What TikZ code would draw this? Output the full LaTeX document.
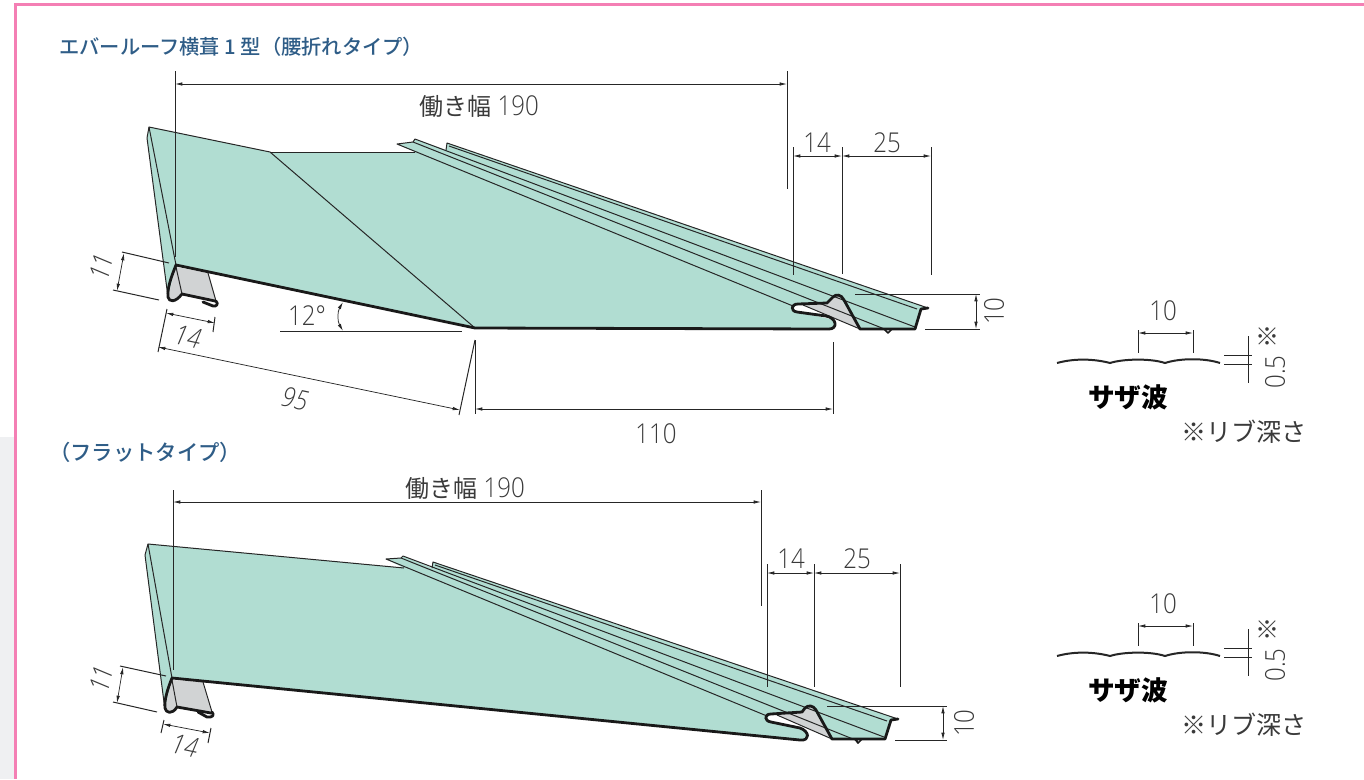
\documentclass[tikz,border=0pt]{standalone}
\usepackage{fontspec}
\setmainfont[FakeStretch=0.88]{Open Sans Light}
\newfontfamily\cjk{Noto Sans CJK JP}
\newfontfamily\cjktitle{Noto Sans CJK JP Medium}
\usetikzlibrary{arrows.meta}
\definecolor{panelgreen}{HTML}{B1DDD2}
\definecolor{profilegrey}{HTML}{D1D3D4}
\definecolor{framepink}{HTML}{F47FB4}
\definecolor{sidegrey}{HTML}{EFF0F2}
\definecolor{titleblue}{HTML}{2F5D87}
\definecolor{inkgrey}{HTML}{3A3A3A}
\tikzstyle{panel}=[fill=panelgreen,draw=none]
\tikzstyle{profile}=[fill=profilegrey,draw=none]
\tikzstyle{edge}=[draw=black!85,line width=0.75pt,line join=round]
\tikzstyle{heavy}=[draw=black!90,line width=2.1pt,line join=round,line cap=round]
\tikzstyle{extline}=[draw=black!85,line width=0.75pt]
\tikzstyle{dimline}=[draw=black!85,line width=0.55pt,{Latex[length=5.5pt,width=2.6pt]}-{Latex[length=5.5pt,width=2.6pt]}]
\tikzstyle{dimtext}=[inner sep=0pt,text=inkgrey,font=\fontsize{20.5}{22}\selectfont]
\tikzstyle{title}=[inner sep=0pt,anchor=west,text=titleblue,font=\cjktitle\fontsize{15.2}{17}\selectfont]
\newcommand{\worklabel}{{\cjk\fontsize{18}{20}\selectfont 働き幅} 190}
\begin{document}
\begin{tikzpicture}[x=0.75pt,y=-0.75pt]
	\useasboundingbox (0,0) rectangle (1364,779);
	% frame
	\fill [sidegrey] (0,437) rectangle (14,779);
	\fill [framepink] (14,3) rectangle (17,779);
	\fill [framepink] (14,3) rectangle (1364,6);
	\node [style=title] (title1) at (59,47) {エバールーフ横葺 1 型（腰折れタイプ）};
	\node [style=title, font=\cjktitle\fontsize{16}{18}\selectfont] (title2) at (49,452) {（フラットタイプ）};

	% upper panel
	\fill [style=panel] (149,127) -- (147,138) -- (168,297) -- (176,265) -- (475,328) -- (832,329)
		-- (835,325) -- (835,320) -- (797,312) -- (793,308) -- (798,304) -- (827,303) -- (838,295)
		-- (860,329) -- (915,329) -- (920,310) -- (928,308) -- (447,143) -- (446,150) -- (415,139)
		-- (413,142) -- (397,144) -- (415,152) -- (270,152) -- cycle;
	\fill [style=profile] (176,267) -- (208,273) -- (216,301) -- (182,294) -- (172,301) -- (168,297) -- cycle;
	\fill [style=profile] (803,305) -- (827,303) -- (838,295) -- (860,329) -- cycle;
	\draw [style=edge] (147,138) -- (149,127) -- (270,152) -- (475,328);
	\draw [style=edge] (147,138) -- (168,297);
	\draw [style=edge] (149,127) -- (176,265);
	\draw [style=edge] (270,152) -- (415,152);
	\draw [style=edge] (793,306) -- (397,144) -- (413,142) -- (887,330);
	\draw [style=edge] (413,142) -- (415,139) -- (915,327);
	\draw [style=edge] (446,150) -- (447,143) -- (928,308);
	\draw [style=edge] (449,146) -- (917,309);
	\draw [style=edge] (176,267) -- (182,294);
	\draw [style=edge] (208,273) -- (216,301);
	\draw [style=edge] (803,305) -- (860,329);
	\draw [style=heavy] (216,301) .. controls (219,304) and (216,307) .. (213,306) -- (203,302);
	\draw [style=heavy] (928,308) -- (921,309) -- (915,329) -- (860,329) -- (844,300)
		.. controls (841,294) and (836,294) .. (833,297) -- (827,303) -- (798,304)
		.. controls (791,304) and (790,311) .. (797,312) -- (826,316)
		.. controls (837,318) and (838,329) .. (829,329) -- (475,328) -- (176,265)
		.. controls (172,275) and (167,288) .. (168,297)
		.. controls (169,302) and (175,303) .. (182,294) -- (215,301);
	\draw [style=heavy, line width=1.3pt] (884,329) -- (888,333) -- (892,329);

	% upper dimensions
	\draw [style=extline] (175,71) -- (175,257);
	\draw [style=extline] (787,71) -- (787,189);
	\coordinate (w1a) at (175,84);
	\coordinate (w1b) at (787,84);
	\draw [style=dimline] (w1a) -- (w1b);
	\node [style=dimtext] (width1) at (479,106) {\worklabel};
	\draw [style=extline] (793,147) -- (793,275);
	\draw [style=extline] (842,147) -- (842,274);
	\draw [style=extline] (931,147) -- (931,275);
	\coordinate (a1) at (793,156);
	\coordinate (a2) at (842,156);
	\coordinate (a3) at (931,156);
	\draw [style=dimline] (a1) -- (a2);
	\draw [style=dimline] (a2) -- (a3);
	\node [style=dimtext] (d14a) at (817,143) {14};
	\node [style=dimtext] (d25a) at (887,143) {25};
	\draw [style=extline] (855,294) -- (980,294);
	\draw [style=extline] (925,329) -- (980,329);
	\coordinate (h1a) at (976,294);
	\coordinate (h1b) at (976,329);
	\draw [style=dimline] (h1a) -- (h1b);
	\node [style=dimtext, rotate=90] (d10a) at (994,311) {10};
	\draw [style=extline] (475,340) -- (475,414);
	\draw [style=extline] (833,342) -- (833,414);
	\coordinate (b1) at (475,409);
	\coordinate (b2) at (833,409);
	\draw [style=dimline] (b1) -- (b2);
	\node [style=dimtext] (d110) at (656,434) {110};
	\draw [style=extline] (167,309) -- (158,352);
	\draw [style=extline] (475,340) -- (459,415);
	\coordinate (c1) at (158,347);
	\coordinate (c2) at (460,410);
	\draw [style=dimline] (c1) -- (c2);
	\node [style=dimtext, rotate=-12] (d95) at (295,399) {\itshape 95};
	\draw [style=extline] (215,317) -- (213,332);
	\coordinate (e1) at (166,313);
	\coordinate (e2) at (215,323);
	\draw [style=dimline] (e1) -- (e2);
	\node [style=dimtext, rotate=-12] (d14b) at (188,337) {\itshape 14};
	\draw [style=extline] (122,252) -- (169,263);
	\draw [style=extline] (113,290) -- (159,300);
	\coordinate (f1) at (124,253);
	\coordinate (f2) at (117,291);
	\draw [style=dimline] (f1) -- (f2);
	\node [style=dimtext, rotate=78] (d11a) at (101,267) {\itshape 11};
	\draw [style=extline] (280,331) -- (462,331);
	\node [style=dimtext] (d12) at (307,316) {12°};
	\coordinate (g1) at (343,302);
	\coordinate (g2) at (343,331);
	\draw [style=dimline, bend right=30] (g1) to (g2);

	% lower panel
	\fill [style=panel] (148,544) -- (145,555) -- (165,710) -- (172,678) -- (802,740) -- (807,735)
		-- (803,730) -- (771,722) -- (767,718) -- (771,714) -- (802,712) -- (811,706)
		-- (832,739) -- (885,739) -- (890,720) -- (898,719) -- (433,562) -- (432,568) -- (403,556)
		-- (401,558) -- (386,559) -- (404,568) -- cycle;
	\fill [style=profile] (172,680) -- (203,682) -- (212,712) -- (177,707) -- (168,713) -- (165,708) -- cycle;
	\fill [style=profile] (777,715) -- (802,712) -- (811,706) -- (832,739) -- cycle;
	\draw [style=edge] (145,555) -- (148,544) -- (404,568);
	\draw [style=edge] (145,555) -- (165,710);
	\draw [style=edge] (148,544) -- (172,678);
	\draw [style=edge] (767,716) -- (386,559) -- (401,558) -- (858,741);
	\draw [style=edge] (401,558) -- (403,556) -- (884,737);
	\draw [style=edge] (432,568) -- (433,562) -- (898,719);
	\draw [style=edge] (435,565) -- (887,721);
	\draw [style=edge] (172,680) -- (177,707);
	\draw [style=edge] (203,682) -- (212,712);
	\draw [style=edge] (777,715) -- (832,739);
	\draw [style=heavy] (212,712) .. controls (215,715) and (212,718) .. (207,717) -- (198,712);
	\draw [style=heavy] (898,719) -- (891,720) -- (885,739) -- (832,739) -- (816,710)
		.. controls (813,705) and (808,705) .. (805,708) -- (802,712) -- (771,714)
		.. controls (764,714) and (764,721) .. (771,722) -- (800,728)
		.. controls (809,731) and (811,741) .. (800,740) -- (172,678)
		.. controls (168,688) and (164,700) .. (165,708)
		.. controls (166,713) and (172,715) .. (177,707) -- (211,713);
	\draw [style=heavy, line width=1.3pt] (855,739) -- (858,743) -- (862,739);

	% lower dimensions
	\draw [style=extline] (173,490) -- (173,670);
	\draw [style=extline] (761,490) -- (761,606);
	\coordinate (w2a) at (173,502);
	\coordinate (w2b) at (761,502);
	\draw [style=dimline] (w2a) -- (w2b);
	\node [style=dimtext] (width2) at (465,488) {\worklabel};
	\draw [style=extline] (767,564) -- (767,687);
	\draw [style=extline] (814,564) -- (814,687);
	\draw [style=extline] (900,564) -- (900,687);
	\coordinate (j1) at (767,573);
	\coordinate (j2) at (814,573);
	\coordinate (j3) at (900,573);
	\draw [style=dimline] (j1) -- (j2);
	\draw [style=dimline] (j2) -- (j3);
	\node [style=dimtext] (d14c) at (791,559) {14};
	\node [style=dimtext] (d25b) at (857,559) {25};
	\draw [style=extline] (827,706) -- (947,706);
	\draw [style=extline] (895,740) -- (947,740);
	\coordinate (h2a) at (943,706);
	\coordinate (h2b) at (943,740);
	\draw [style=dimline] (h2a) -- (h2b);
	\node [style=dimtext, rotate=90] (d10b) at (964,723) {10};
	\draw [style=extline] (120,666) -- (166,676);
	\draw [style=extline] (113,702) -- (157,712);
	\coordinate (k1) at (123,667);
	\coordinate (k2) at (117,703);
	\draw [style=dimline] (k1) -- (k2);
	\node [style=dimtext, rotate=78] (d11b) at (101,679) {\itshape 11};
	\draw [style=extline] (164,720) -- (161,733);
	\draw [style=extline] (211,728) -- (208,743);
	\coordinate (m1) at (163,724);
	\coordinate (m2) at (210,733);
	\draw [style=dimline] (m1) -- (m2);
	\node [style=dimtext, rotate=-12] (d14d) at (185,746) {\itshape 14};

	% ripple details
	\foreach \dy/\nm in {0/u,293/l} {
		\begin{scope}[yshift=-0.75*\dy pt]
			\draw [draw=black!85, line width=1.5pt] (1057,363) .. controls (1075,358) and (1095,359) .. (1110,363)
				.. controls (1122,359) and (1150,358) .. (1165,363)
				.. controls (1180,358) and (1205,358) .. (1220,363);
			\draw [style=extline] (1138,330) -- (1138,353);
			\draw [style=extline] (1193,330) -- (1193,353);
			\coordinate (r1\nm) at (1138,333);
			\coordinate (r2\nm) at (1193,333);
			\draw [style=dimline] (r1\nm) -- (r2\nm);
			\node [style=dimtext] (rib\nm) at (1163,311) {10};
			\draw [style=extline] (1224,355) -- (1252,355);
			\draw [style=extline] (1224,364) -- (1252,364);
			\draw [style=extline] (1248,336) -- (1248,383);
			\node [style=dimtext, rotate=90] (dep\nm) at (1275,372) {0.5};
			\node [inner sep=0pt, text=inkgrey, font=\cjk\fontsize{18}{20}\selectfont] (mark\nm) at (1267,337) {※};
			\node [inner sep=0pt, font=\cjk\bfseries\fontsize{20}{22}\selectfont, text=black] (wave\nm) at (1128,397) {サザ波};
			\node [inner sep=0pt, text=inkgrey, font=\cjk\fontsize{18.8}{21}\selectfont] (note\nm) at (1244,432) {※リブ深さ};
		\end{scope}
	}
\end{tikzpicture}
\end{document}
